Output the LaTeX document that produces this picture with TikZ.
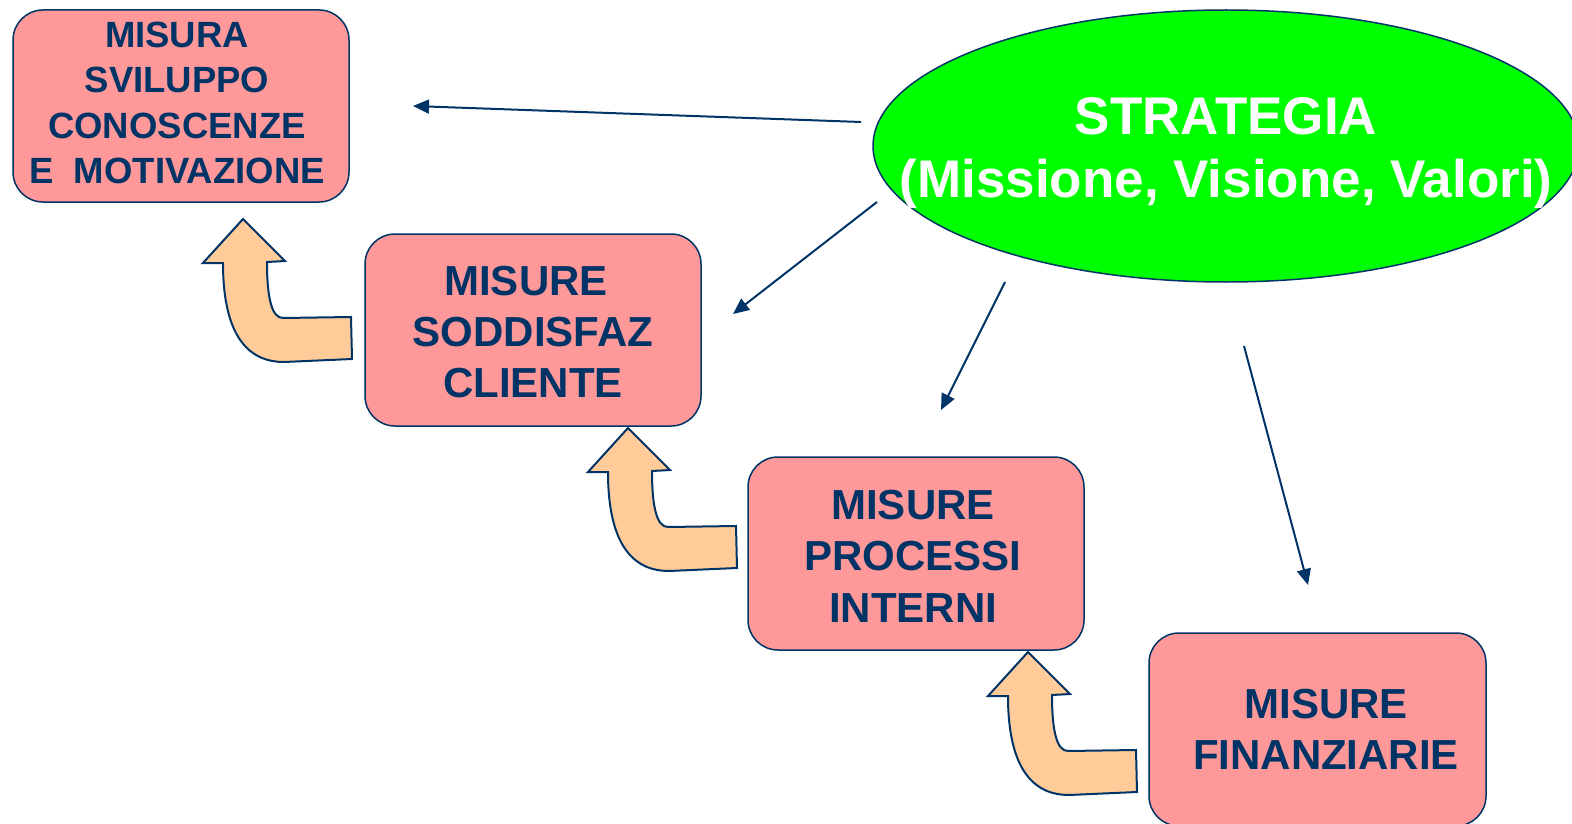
\documentclass[tikz,border=0pt]{standalone}
\usepackage{fontspec}
\setmainfont{Liberation Sans}
\usetikzlibrary{shapes.geometric,arrows.meta}
\definecolor{navy}{HTML}{003366}
\definecolor{boxpink}{HTML}{FF9999}
\definecolor{stratgreen}{HTML}{00FF00}
\definecolor{peach}{HTML}{FFCC99}
\tikzset{
  mbox/.style={draw=navy, line width=1.5pt, fill=boxpink, rounded corners=30pt,
    minimum width=336pt, minimum height=192pt, inner sep=0pt},
  mtext/.style={text=navy, align=center, inner sep=0pt, font=\bfseries},
  stratshape/.style={ellipse, draw=navy, line width=1.5pt, fill=stratgreen,
    minimum width=706pt, minimum height=272pt, inner sep=0pt},
  stratext/.style={text=white, align=center, inner sep=0pt,
    font=\fontsize{53}{63}\selectfont\bfseries},
  link/.style={draw=navy, line width=2pt, -{Triangle[length=16pt,width=14pt]}},
  blockarrow/.style={draw=navy, line width=2pt, fill=peach, line join=miter},
  pics/bentarrow/.style={code={
    \path[blockarrow] (0,0) -- (42,42) -- (24,43)
      .. controls (24,80) and (29,99) .. (40,99) -- (108,98) -- (109,140)
      -- (41,143) .. controls (-5,143) and (-20,100) .. (-20,44)
      -- (-40,44) -- cycle;
  }}
}
\begin{document}
\begin{tikzpicture}[x=1pt,y=-1pt]
\useasboundingbox (0,0) rectangle (1572,824);
\clip (0,0) rectangle (1572,824);

% the four measure boxes
\node[mbox] (b1) at (181,106) {};
\node[mbox] (b2) at (533,330) {};
\node[mbox, minimum height=193pt] (b3) at (916,553.5) {};
\node[mbox, minimum width=337pt, minimum height=193pt] (b4) at (1317.5,729.5) {};

\node[mtext, font=\fontsize{36.5}{45.3}\selectfont\bfseries] (t1) at (177,103)
  {MISURA\\SVILUPPO\\CONOSCENZE\\E\ \ MOTIVAZIONE};
\node[mtext, font=\fontsize{42}{51}\selectfont\bfseries] (t2) at (533,332)
  {MISURE\kern14pt\\SODDISFAZ\\CLIENTE};
\node[mtext, font=\fontsize{42}{51.5}\selectfont\bfseries] (t3) at (913,556)
  {MISURE\\PROCESSI\\INTERNI};
\node[mtext, font=\fontsize{42}{51}\selectfont\bfseries] (t4) at (1326,729.5)
  {MISURE\\FINANZIARIE};

% strategy ellipse
\node[stratshape] (strat) at (1226,146) {};
\node[stratext] (stratt) at (1226,153) {STRATEGIA\\(Missione, Visione, Valori)};

% links from the strategy to the measures
\coordinate (s1) at (861,122);  \coordinate (e1) at (413,106);
\coordinate (s2) at (877,202);  \coordinate (e2) at (733,314);
\coordinate (s3) at (1005,282); \coordinate (e3) at (941,410);
\coordinate (s4) at (1244,346); \coordinate (e4) at (1308,585);
\draw[link] (s1) -- (e1);
\draw[link] (s2) -- (e2);
\draw[link] (s3) -- (e3);
\draw[link] (s4) -- (e4);

% bent block arrows climbing from box to box
\pic at (243,219) {bentarrow};
\pic at (628,428) {bentarrow};
\pic at (1028,652) {bentarrow};
\end{tikzpicture}
\end{document}
